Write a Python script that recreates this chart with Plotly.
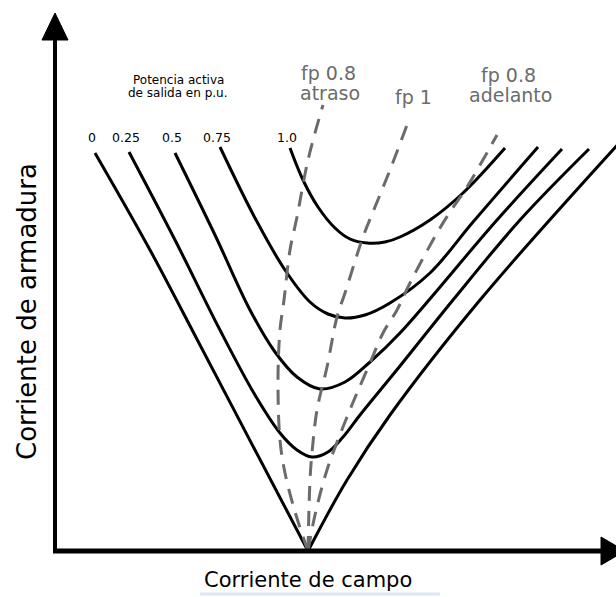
import plotly.graph_objects as go

# ---- data (field current If, armature current Ia, arbitrary units) ----
potencias = ["0", "0.25", "0.5", "0.75", "1.0"]
potencia_label_ia = 414

if_p0_izq = [40, 95, 145, 200, 253]
ia_p0_izq = [398, 301, 206, 101, 0]
if_p0_der = [253, 292, 335, 425, 566]
ia_p0_der = [0, 71, 136, 251, 410]

if_p025 = [74, 120, 165, 200, 225, 242, 257, 273, 288, 305, 345, 398, 465, 534]
ia_p025 = [399, 311, 221, 156, 118, 101, 94, 99, 114, 136, 185, 251, 331, 402]

if_p05 = [120, 160, 195, 220, 242, 265, 290, 315, 345, 442, 507]
ia_p05 = [398, 316, 241, 199, 174, 162, 169, 189, 218, 331, 402]

if_p075 = [165, 200, 230, 255, 273, 290, 310, 335, 375, 418, 483]
ia_p075 = [404, 333, 281, 249, 237, 233, 236, 248, 278, 329, 404]

if_p1 = [235, 248, 263, 280, 295, 312, 330, 345, 375, 408, 450]
ia_p1 = [403, 371, 344, 323, 312, 308, 309, 314, 331, 358, 403]

if_atraso = [253, 241, 230, 225, 223, 225, 229, 235, 242, 253, 268]
ia_atraso = [0, 36, 78, 111, 171, 221, 251, 301, 334, 391, 446]

if_fp1 = [253, 255, 257, 262, 272, 282, 290, 308, 320, 335, 352]
ia_fp1 = [0, 71, 98, 141, 184, 234, 258, 314, 344, 381, 426]

if_adelanto = [253, 260, 272, 292, 302, 315, 328, 342, 355, 382, 395, 412, 442]
ia_adelanto = [0, 36, 81, 134, 158, 188, 218, 241, 268, 318, 339, 364, 416]

fp_textos = [("fp 0.8", "atraso"), ("fp 1",), ("fp 0.8", "adelanto")]
fp_pos_if = [273, 358, 453]
fp_pos_ia = [468, 454, 466]

eje_x_max = 546
eje_y_max = 511

FONT = "DejaVu Sans"
GRIS = "#6b6b6b"

fig = go.Figure()

curvas = [
    (if_p0_izq, ia_p0_izq), (if_p0_der, ia_p0_der),
    (if_p025, ia_p025), (if_p05, ia_p05), (if_p075, ia_p075), (if_p1, ia_p1),
]
for xs, ys in curvas:
    fig.add_trace(go.Scatter(x=xs, y=ys, mode="lines",
                             line=dict(color="black", width=3, shape="spline", smoothing=1.0),
                             hoverinfo="skip", showlegend=False))

for xs, ys in [(if_atraso, ia_atraso), (if_fp1, ia_fp1), (if_adelanto, ia_adelanto)]:
    fig.add_trace(go.Scatter(x=xs, y=ys, mode="lines",
                             line=dict(color=GRIS, width=3, dash="15px,10px", shape="spline", smoothing=1.0),
                             hoverinfo="skip", showlegend=False))

# axes with arrows
shapes = [
    dict(type="line", xref="x", yref="y", x0=-2, y0=0, x1=eje_x_max, y1=0,
         line=dict(color="black", width=5)),
    dict(type="line", xref="x", yref="y", x0=0, y0=0, x1=0, y1=eje_y_max,
         line=dict(color="black", width=4)),
    dict(type="path", xref="x", yref="y",
         path=f"M -13,{eje_y_max} L 13,{eje_y_max} L 0,{eje_y_max + 27} Z",
         fillcolor="black", line=dict(color="black", width=1)),
    dict(type="path", xref="x", yref="y",
         path=f"M {eje_x_max},14 L {eje_x_max},-14 L {eje_x_max + 24},0 Z",
         fillcolor="black", line=dict(color="black", width=1)),
    dict(type="line", xref="x", yref="y", x0=145, y0=-43, x1=385, y1=-43,
         line=dict(color="#dde7f3", width=3)),
]

annotations = []
starts_if = [if_p0_izq[0], if_p025[0], if_p05[0], if_p075[0], if_p1[0]]
for lab, x0 in zip(potencias, starts_if):
    annotations.append(dict(x=x0, y=potencia_label_ia, xref="x", yref="y", text=lab, showarrow=False,
                            xshift=-3, font=dict(family=FONT, size=12.5, color="black")))

annotations.append(dict(x=123, y=471, xref="x", yref="y", text="Potencia activa", showarrow=False,
                        font=dict(family=FONT, size=12, color="black")))
annotations.append(dict(x=123, y=458, xref="x", yref="y", text="de salida en p.u.", showarrow=False,
                        font=dict(family=FONT, size=12, color="black")))

for lines, x, y in zip(fp_textos, fp_pos_if, fp_pos_ia):
    if len(lines) == 1:
        annotations.append(dict(x=x, y=y, xref="x", yref="y", text=lines[0], showarrow=False,
                                font=dict(family=FONT, size=19, color=GRIS)))
    else:
        annotations.append(dict(x=x, y=y + 10, xref="x", yref="y", text=lines[0], showarrow=False,
                                font=dict(family=FONT, size=19, color=GRIS)))
        annotations.append(dict(x=x + 2, y=y - 10, xref="x", yref="y", text=lines[1], showarrow=False,
                                font=dict(family=FONT, size=19, color=GRIS)))

annotations.append(dict(x=253, y=-29, xref="x", yref="y", text="Corriente de campo", showarrow=False,
                        font=dict(family=FONT, size=21, color="black")))
annotations.append(dict(x=-28, y=239, xref="x", yref="y", text="Corriente de armadura", showarrow=False,
                        textangle=-90, font=dict(family=FONT, size=26, color="black")))

fig.update_layout(
    width=616, height=597,
    margin=dict(l=0, r=0, t=0, b=0),
    paper_bgcolor="white", plot_bgcolor="white",
    xaxis=dict(range=[-55, 561], visible=False, fixedrange=True),
    yaxis=dict(range=[-46, 551], visible=False, fixedrange=True),
    shapes=shapes, annotations=annotations,
    showlegend=False,
)

fig.write_html("out.html",
               config={"displayModeBar": False, "staticPlot": True},
               post_script="document.body.style.margin='0';document.body.style.overflow='hidden';")
